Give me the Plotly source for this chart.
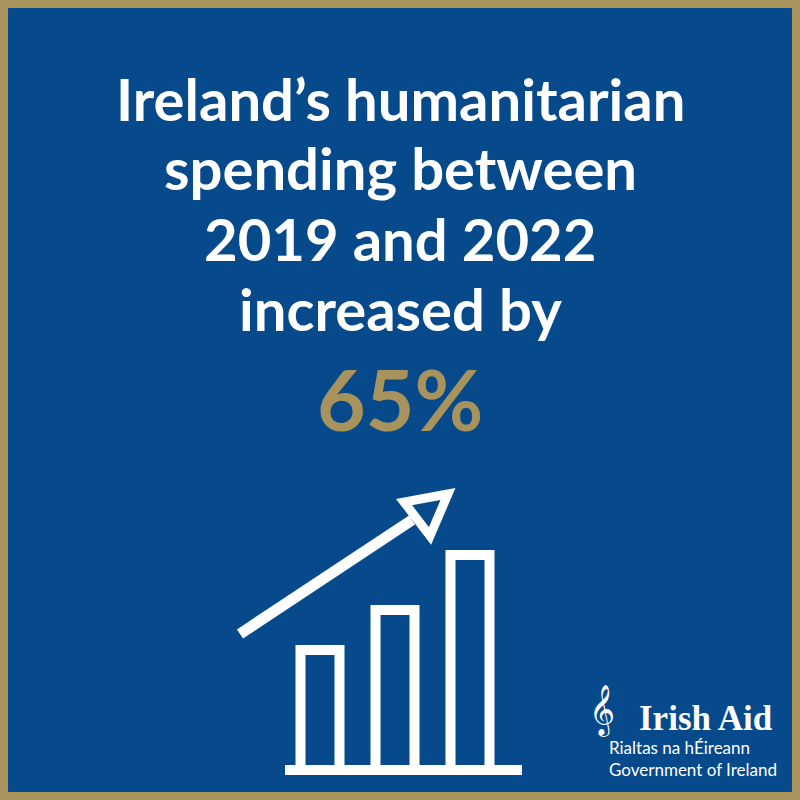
import plotly.graph_objects as go

years = ["2019", "2021", "2022"]
icon_values = [1.2, 1.6, 2.15]
title_lines = ["Ireland’s humanitarian", "spending between", "2019 and 2022", "increased by"]
headline = "65%"

BLUE = "#064a8c"
GOLD = "#a8935d"
W = 800

def px(x):
    return x / W

def py(y):
    return 1 - y / W

fig = go.Figure(go.Bar(
    x=[1, 2, 3], y=icon_values, width=0.52,
    marker=dict(color=BLUE, line=dict(color="white", width=10)),
    hoverinfo="skip"))

shapes = [
    dict(type="rect", xref="paper", yref="paper", x0=0, y0=0, x1=1, y1=1,
         line=dict(color=GOLD, width=16), fillcolor="rgba(0,0,0,0)", layer="below"),
    dict(type="line", xref="paper", yref="paper", x0=px(285), x1=px(522), y0=py(770), y1=py(770),
         line=dict(color="white", width=10)),
    dict(type="line", xref="paper", yref="paper", x0=px(240), y0=py(634), x1=px(412), y1=py(520),
         line=dict(color="white", width=11)),
    dict(type="path", xref="paper", yref="paper",
         path=f"M {px(448)} {py(494)} L {px(404)} {py(502)} L {px(430)} {py(536)} Z",
         line=dict(color="white", width=9), fillcolor=BLUE),
]

ann = []
for i, t in enumerate(title_lines):
    ann.append(dict(text="<b>" + t + "</b>", x=0.5, y=py(98 + 70 * i), xref="paper", yref="paper",
                    showarrow=False, font=dict(family="Lato", size=58, color="white"),
                    xanchor="center", yanchor="middle"))
ann.append(dict(text="<b>" + headline + "</b>", x=0.5, y=py(398), xref="paper", yref="paper",
                showarrow=False, yanchor="middle", font=dict(family="Lato", size=84, color=GOLD)))
ann.append(dict(text="<b>Irish Aid</b>", x=px(775), y=py(718), xref="paper", yref="paper",
                xanchor="right", yanchor="middle", showarrow=False,
                font=dict(family="Liberation Serif", size=35, color="white")))
ann.append(dict(text="Rialtas na hÉireann", x=px(607), y=py(747), xref="paper", yref="paper",
                xanchor="left", yanchor="middle", showarrow=False,
                font=dict(family="Lato", size=17, color="white")))
ann.append(dict(text="Government of Ireland", x=px(607), y=py(769), xref="paper", yref="paper",
                xanchor="left", yanchor="middle", showarrow=False,
                font=dict(family="Lato", size=17, color="white")))
ann.append(dict(text="𝄞", x=px(617), y=py(710), xref="paper", yref="paper",
                yanchor="middle", showarrow=False,
                font=dict(family="DejaVu Sans", size=44, color="white")))

fig.update_layout(
    width=800, height=800, margin=dict(l=0, r=0, t=0, b=0),
    paper_bgcolor=BLUE, plot_bgcolor="rgba(0,0,0,0)", showlegend=False,
    xaxis=dict(domain=[px(245), px(545)], range=[0, 4], visible=False, fixedrange=True),
    yaxis=dict(domain=[py(770), py(550)], range=[0, 2.2], visible=False, fixedrange=True),
    shapes=shapes, annotations=ann,
)
fig.write_html("out.html", config={"displayModeBar": False},
               post_script="document.body.style.margin='0';document.body.style.overflow='hidden';")
